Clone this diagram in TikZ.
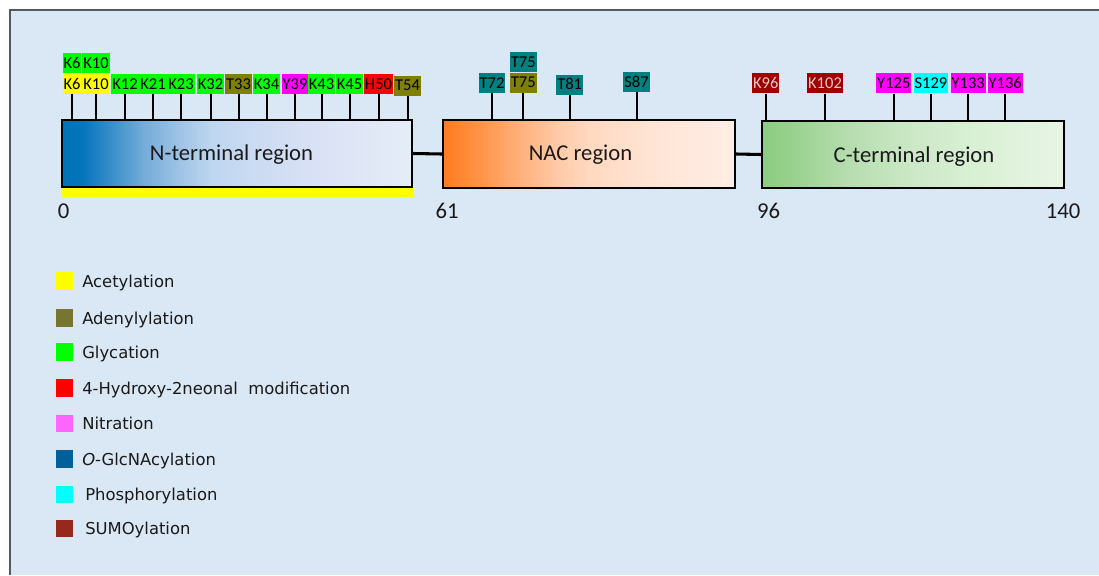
\documentclass[tikz,border=0pt]{standalone}
\usepackage{fontspec}
\setmainfont{Carlito}
\newfontfamily\legfont{DejaVu Sans}
\usetikzlibrary{fit}

\definecolor{bg}{HTML}{DAE7F5}
\definecolor{frame}{HTML}{55585F}
\definecolor{ace}{HTML}{FFFF00}
\definecolor{ade}{HTML}{808000}
\definecolor{adeleg}{HTML}{787532}
\definecolor{gly}{HTML}{00FF00}
\definecolor{hne}{HTML}{FF0000}
\definecolor{nit}{HTML}{FF00FF}
\definecolor{nitleg}{HTML}{FF66FF}
\definecolor{ogl}{HTML}{00609A}
\definecolor{tealc}{HTML}{008080}
\definecolor{pho}{HTML}{00FFFF}
\definecolor{sumo}{HTML}{A00000}
\definecolor{sumoleg}{HTML}{96281E}
\definecolor{sumotxt}{HTML}{F2C8C8}
\definecolor{txt}{HTML}{1A1A1A}

\pgfdeclarehorizontalshading{Nshade}{100bp}{rgb(0bp)=(0.0,0.45,0.72); rgb(25bp)=(0.0,0.45,0.72); rgb(28bp)=(0.02,0.46,0.74); rgb(30.5bp)=(0.15,0.52,0.77); rgb(36.5bp)=(0.45,0.67,0.85); rgb(42bp)=(0.63,0.77,0.90); rgb(46.5bp)=(0.75,0.84,0.94); rgb(53.5bp)=(0.80,0.86,0.95); rgb(60.5bp)=(0.85,0.88,0.96); rgb(75bp)=(0.90,0.93,0.97); rgb(100bp)=(0.90,0.93,0.97)}
\pgfdeclarehorizontalshading{Ashade}{100bp}{rgb(0bp)=(1,0.48,0.12); rgb(25bp)=(1,0.48,0.12); rgb(30bp)=(1,0.56,0.25); rgb(37.5bp)=(1,0.68,0.47); rgb(45bp)=(1,0.80,0.67); rgb(50bp)=(1,0.85,0.75); rgb(60bp)=(1,0.89,0.83); rgb(75bp)=(1,0.93,0.90); rgb(100bp)=(1,0.93,0.90)}
\pgfdeclarehorizontalshading{Cshade}{100bp}{rgb(0bp)=(0.54,0.80,0.50); rgb(25bp)=(0.54,0.80,0.50); rgb(30bp)=(0.60,0.82,0.56); rgb(40bp)=(0.72,0.87,0.69); rgb(50bp)=(0.80,0.91,0.78); rgb(60bp)=(0.85,0.94,0.83); rgb(75bp)=(0.91,0.96,0.90); rgb(100bp)=(0.91,0.96,0.90)}

\tikzset{
  region/.style={draw=black, line width=1.7pt, inner sep=0pt},
  regtxt/.style={font=\fontsize{17}{20}\selectfont, text=txt, inner sep=0pt, text height=11pt, text depth=0pt},
  lab/.style={inner xsep=0.75pt, inner ysep=3.5pt, text height=8pt, text depth=0pt, font=\fontsize{12.4}{14}\selectfont, text=black},
  glyl/.style={lab, fill=gly},
  acel/.style={lab, fill=ace},
  adel/.style={lab, fill=ade},
  hnel/.style={lab, fill=hne},
  nitl/.style={lab, fill=nit},
  teall/.style={lab, fill=tealc},
  phol/.style={lab, fill=pho},
  sumol/.style={lab, fill=sumo, text=sumotxt},
  stem/.style={draw=black, line width=1.5pt},
  link/.style={draw=black, line width=2.3pt},
  legsq/.style={minimum size=13.1pt, inner sep=0pt},
  legtxt/.style={font=\legfont\fontsize{12.3}{14}\selectfont, text=txt, inner sep=0pt, text height=9pt, text depth=0pt, anchor=west}
}

\begin{document}
\begin{tikzpicture}[x=0.75pt, y=-0.75pt]
\useasboundingbox (0,0) rectangle (1099,575);
\fill[white] (0,0) rectangle (1099,575);
\fill[bg] (10,10) rectangle (1099,575);
\draw[frame, line width=1.1pt] (10,575) -- (10,10) -- (1099,10);

% yellow acetylation bar
\fill[ace] (62,188) rectangle (414,197);

% region boxes
\node[region, shading=Nshade, fit={(62,120)(412,187)}] (N) {};
\node[region, shading=Ashade, fit={(443,120)(735,188)}] (NAC) {};
\node[region, shading=Cshade, fit={(762,121)(1064,188)}] (C) {};
\draw[link] (N.east) -- (NAC.west);
\draw[link] (NAC.east) -- (C.west);

\node[regtxt] (Nt) at (231.5,153) {N-terminal region};
\node[regtxt] (At) at (580.5,153.3) {NAC region};
\node[regtxt] (Ct) at (914,155.5) {C-terminal region};

% numbers
\node[regtxt, text height=10.7pt] (n0) at (63.5,211) {0};
\node[regtxt, text height=10.7pt] (n61) at (447,211) {61};
\node[regtxt, text height=10.7pt] (n96) at (768.5,211) {96};
\node[regtxt, text height=10.7pt] (n140) at (1063,211) {140};

% N-terminal labels
\node[acel] (K6a) at (72,84) {K6};
\node[glyl, anchor=south] (K6b) at (K6a.north) {K6};
\node[acel] (K10a) at (96,84) {K10};
\node[glyl, anchor=south] (K10b) at (K10a.north) {K10};
\node[glyl] (K12) at (125,84) {K12};
\node[glyl] (K21) at (153,84) {K21};
\node[glyl] (K23) at (181,84) {K23};
\node[glyl] (K32) at (210.5,84) {K32};
\node[adel] (T33) at (238.5,84) {T33};
\node[glyl] (K34) at (266.5,84) {K34};
\node[nitl] (Y39) at (295,84) {Y39};
\node[glyl] (K43) at (321.5,84) {K43};
\node[glyl] (K45) at (349.5,84) {K45};
\node[hnel] (H50) at (378.5,84) {H50};
\node[adel] (T54) at (407.5,85.5) {T54};
\foreach \n in {K6a,K10a,K12,K21,K23,K32,T33,K34,Y39,K43,K45,H50,T54}
  \draw[stem] (\n.south) -- (\n.south |- N.north);

% NAC labels
\node[teall] (T72) at (492,83) {T72};
\node[adel] (T75a) at (523.3,82.5) {T75};
\node[teall, anchor=south] (T75b) at (T75a.north) {T75};
\node[teall] (T81) at (569.7,84.5) {T81};
\node[teall] (S87) at (636.5,82) {S87};
\foreach \n in {T72,T75a,T81,S87}
  \draw[stem] (\n.south) -- (\n.south |- NAC.north);

% C-terminal labels
\node[sumol] (K96) at (765.7,83.3) {K96};
\node[sumol] (K102) at (825,83.3) {K102};
\node[nitl] (Y125) at (893.8,83.3) {Y125};
\node[phol] (S129) at (931,83.3) {S129};
\node[nitl] (Y133) at (968.2,83.3) {Y133};
\node[nitl] (Y136) at (1005.2,83.3) {Y136};
\foreach \n in {K96,K102,Y125,S129,Y133,Y136}
  \draw[stem] (\n.south) -- (\n.south |- C.north);

% legend
\node[legsq, fill=ace] (L1) at (64.4,281) {};
\node[legtxt] (L1t) at (82,281) {Acetylation};
\node[legsq, fill=adeleg] (L2) at (64.4,318) {};
\node[legtxt] (L2t) at (82,318) {Adenylylation};
\node[legsq, fill=gly] (L3) at (64.4,352) {};
\node[legtxt] (L3t) at (82,352) {Glycation};
\node[legsq, fill=hne] (L4) at (64.4,388) {};
\node[legtxt] (L4t) at (82,388) {4-Hydroxy-2neonal\ \ modification};
\node[legsq, fill=nitleg] (L5) at (64.4,423.5) {};
\node[legtxt] (L5t) at (82,423.5) {Nitration};
\node[legsq, fill=ogl] (L6) at (64.4,459) {};
\node[legtxt] (L6t) at (82,459) {\textit{O}-GlcNAcylation};
\node[legsq, fill=pho] (L7) at (64.4,494.5) {};
\node[legtxt] (L7t) at (85,494.5) {Phosphorylation};
\node[legsq, fill=sumoleg] (L8) at (64.4,528.5) {};
\node[legtxt] (L8t) at (85,528.5) {SUMOylation};
\end{tikzpicture}
\end{document}
